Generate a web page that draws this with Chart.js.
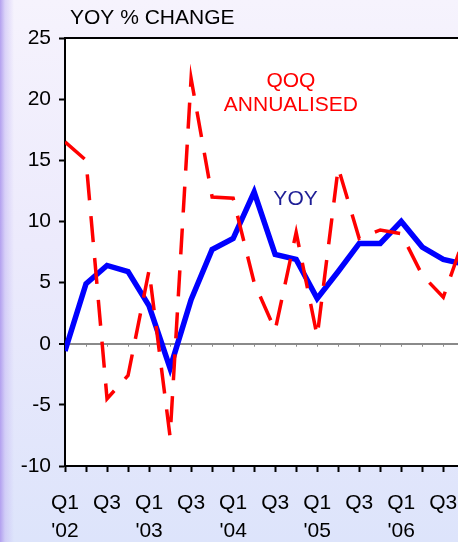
<!DOCTYPE html>
<html>
<head>
<meta charset="utf-8">
<script src="https://cdn.jsdelivr.net/npm/chart.js@4/dist/chart.umd.min.js"></script>
<style>
  html, body { margin: 0; padding: 0; width: 458px; height: 542px; overflow: hidden; }
  body {
    background:
      linear-gradient(to right, rgba(176,156,238,0.95) 0px, rgba(196,184,244,0.55) 5px, rgba(230,226,252,0) 14px),
      linear-gradient(to bottom, #f6f3fd 0%, #eceafc 45%, #dde4fb 100%);
  }
  canvas { display: block; }
</style>
</head>
<body>
<canvas id="c" width="458" height="542"></canvas>
<script>
// Quarterly growth, Q1 2002 to Q4 2006
const quarters = [
  "Q1 '02", "Q2 '02", "Q3 '02", "Q4 '02",
  "Q1 '03", "Q2 '03", "Q3 '03", "Q4 '03",
  "Q1 '04", "Q2 '04", "Q3 '04", "Q4 '04",
  "Q1 '05", "Q2 '05", "Q3 '05", "Q4 '05",
  "Q1 '06", "Q2 '06", "Q3 '06", "Q4 '06"
];
const yoy = [-0.6, 4.9, 6.4, 5.9, 3.1, -2.0, 3.6, 7.7, 8.6, 12.4, 7.3, 6.9, 3.7, 5.9, 8.2, 8.2, 10.0, 7.9, 6.9, 6.5];
const qoqAnnualised = [16.5, 15.0, -4.5, -2.6, 6.0, -7.6, 21.7, 12.0, 11.9, 5.0, 1.1, 9.1, 0.6, 14.4, 8.6, 9.3, 9.0, 5.6, 3.8, 8.7];
const yTickValues = [-10, -5, 0, 5, 10, 15, 20, 25];

const FONT = "'Liberation Sans', Arial, sans-serif";
Chart.defaults.font.family = FONT;
Chart.defaults.font.size = 21;
Chart.defaults.color = '#000';

const toPoints = arr => arr.map((v, i) => ({ x: i, y: v }));

// White plot area, zero-line quarter marks, top frame and the in-chart text
const decor = {
  id: 'decor',
  beforeDraw(chart) {
    const { ctx, chartArea: a } = chart;
    ctx.save();
    ctx.fillStyle = '#fff';
    ctx.fillRect(a.left, a.top, a.right - a.left, a.bottom - a.top);
    ctx.restore();
  },
  beforeDatasetsDraw(chart) {
    const { ctx, scales: { x, y } } = chart;
    const y0 = y.getPixelForValue(0);
    ctx.save();
    ctx.strokeStyle = '#8a8a8a';
    ctx.lineWidth = 1;
    quarters.forEach((q, i) => {
      const px = Math.round(x.getPixelForValue(i)) + 0.5;
      ctx.beginPath();
      ctx.moveTo(px, y0);
      ctx.lineTo(px, y0 + 3);
      ctx.stroke();
    });
    ctx.restore();
  },
  afterDraw(chart) {
    const { ctx, chartArea: a, scales: { x, y } } = chart;
    ctx.save();
    // top frame
    ctx.strokeStyle = '#000';
    ctx.lineWidth = 2;
    ctx.beginPath();
    ctx.moveTo(a.left, a.top);
    ctx.lineTo(chart.width, a.top);
    ctx.stroke();

    ctx.font = '21px ' + FONT;
    ctx.textBaseline = 'alphabetic';
    // axis heading
    ctx.fillStyle = '#000';
    ctx.textAlign = 'left';
    ctx.fillText('YOY % CHANGE', a.left + 5, a.top - 14);

    // series names
    ctx.textAlign = 'center';
    ctx.fillStyle = '#ff0000';
    const qx = x.getPixelForValue(10.75);
    const qy = y.getPixelForValue(21.0);
    ctx.fillText('QOQ', qx, qy);
    ctx.fillText('ANNUALISED', qx, qy + 24.5);
    ctx.fillStyle = '#1e1e96';
    ctx.fillText('YOY', x.getPixelForValue(10.97), y.getPixelForValue(11.35));
    ctx.restore();
  }
};

new Chart(document.getElementById('c'), {
  type: 'line',
  data: {
    datasets: [
      {
        label: 'QOQ annualised',
        data: toPoints(qoqAnnualised),
        borderColor: '#ff0000',
        borderWidth: 3.5,
        borderDash: [26, 16],
        borderCapStyle: 'butt',
        pointRadius: 0,
        tension: 0
      },
      {
        label: 'YOY',
        data: toPoints(yoy),
        borderColor: '#0000ff',
        borderWidth: 5.5,
        pointRadius: 0,
        tension: 0
      }
    ]
  },
  options: {
    responsive: false,
    animation: false,
    events: [],
    layout: { padding: { top: 38, left: 0, right: 0, bottom: 0 } },
    plugins: { legend: { display: false }, tooltip: { enabled: false }, title: { display: false } },
    scales: {
      x: {
        type: 'linear',
        min: 0,
        max: 18.7,
        afterFit(s) { s.height = 76; s.paddingLeft = 0; s.paddingRight = 0; },
        afterBuildTicks(s) { s.ticks = quarters.slice(0, 19).map((q, i) => ({ value: i })); },
        ticks: {
          autoSkip: false,
          maxRotation: 0,
          padding: 18,
          font: { size: 21, lineHeight: 1.3 },
          color: '#000',
          callback(v) {
            const [q, yr] = quarters[v].split(' ');
            if (q === 'Q1') return [q, yr];
            if (q === 'Q3') return [q, ''];
            return '';
          }
        },
        grid: { drawOnChartArea: false, tickColor: '#000', tickWidth: 2, tickLength: 6 },
        border: { color: '#000', width: 2 }
      },
      y: {
        min: -10,
        max: 25,
        afterFit(s) { s.width = 65; },
        afterBuildTicks(s) { s.ticks = yTickValues.map(v => ({ value: v })); },
        ticks: { padding: 8, font: { size: 21 }, color: '#000' },
        grid: {
          color: c => (c.tick && c.tick.value === 0 ? '#8a8a8a' : 'rgba(0,0,0,0)'),
          lineWidth: c => (c.tick && c.tick.value === 0 ? 2 : 1),
          tickColor: '#000',
          tickWidth: 2,
          tickLength: 6
        },
        border: { color: '#000', width: 2 }
      }
    }
  },
  plugins: [decor]
});
</script>
</body>
</html>
